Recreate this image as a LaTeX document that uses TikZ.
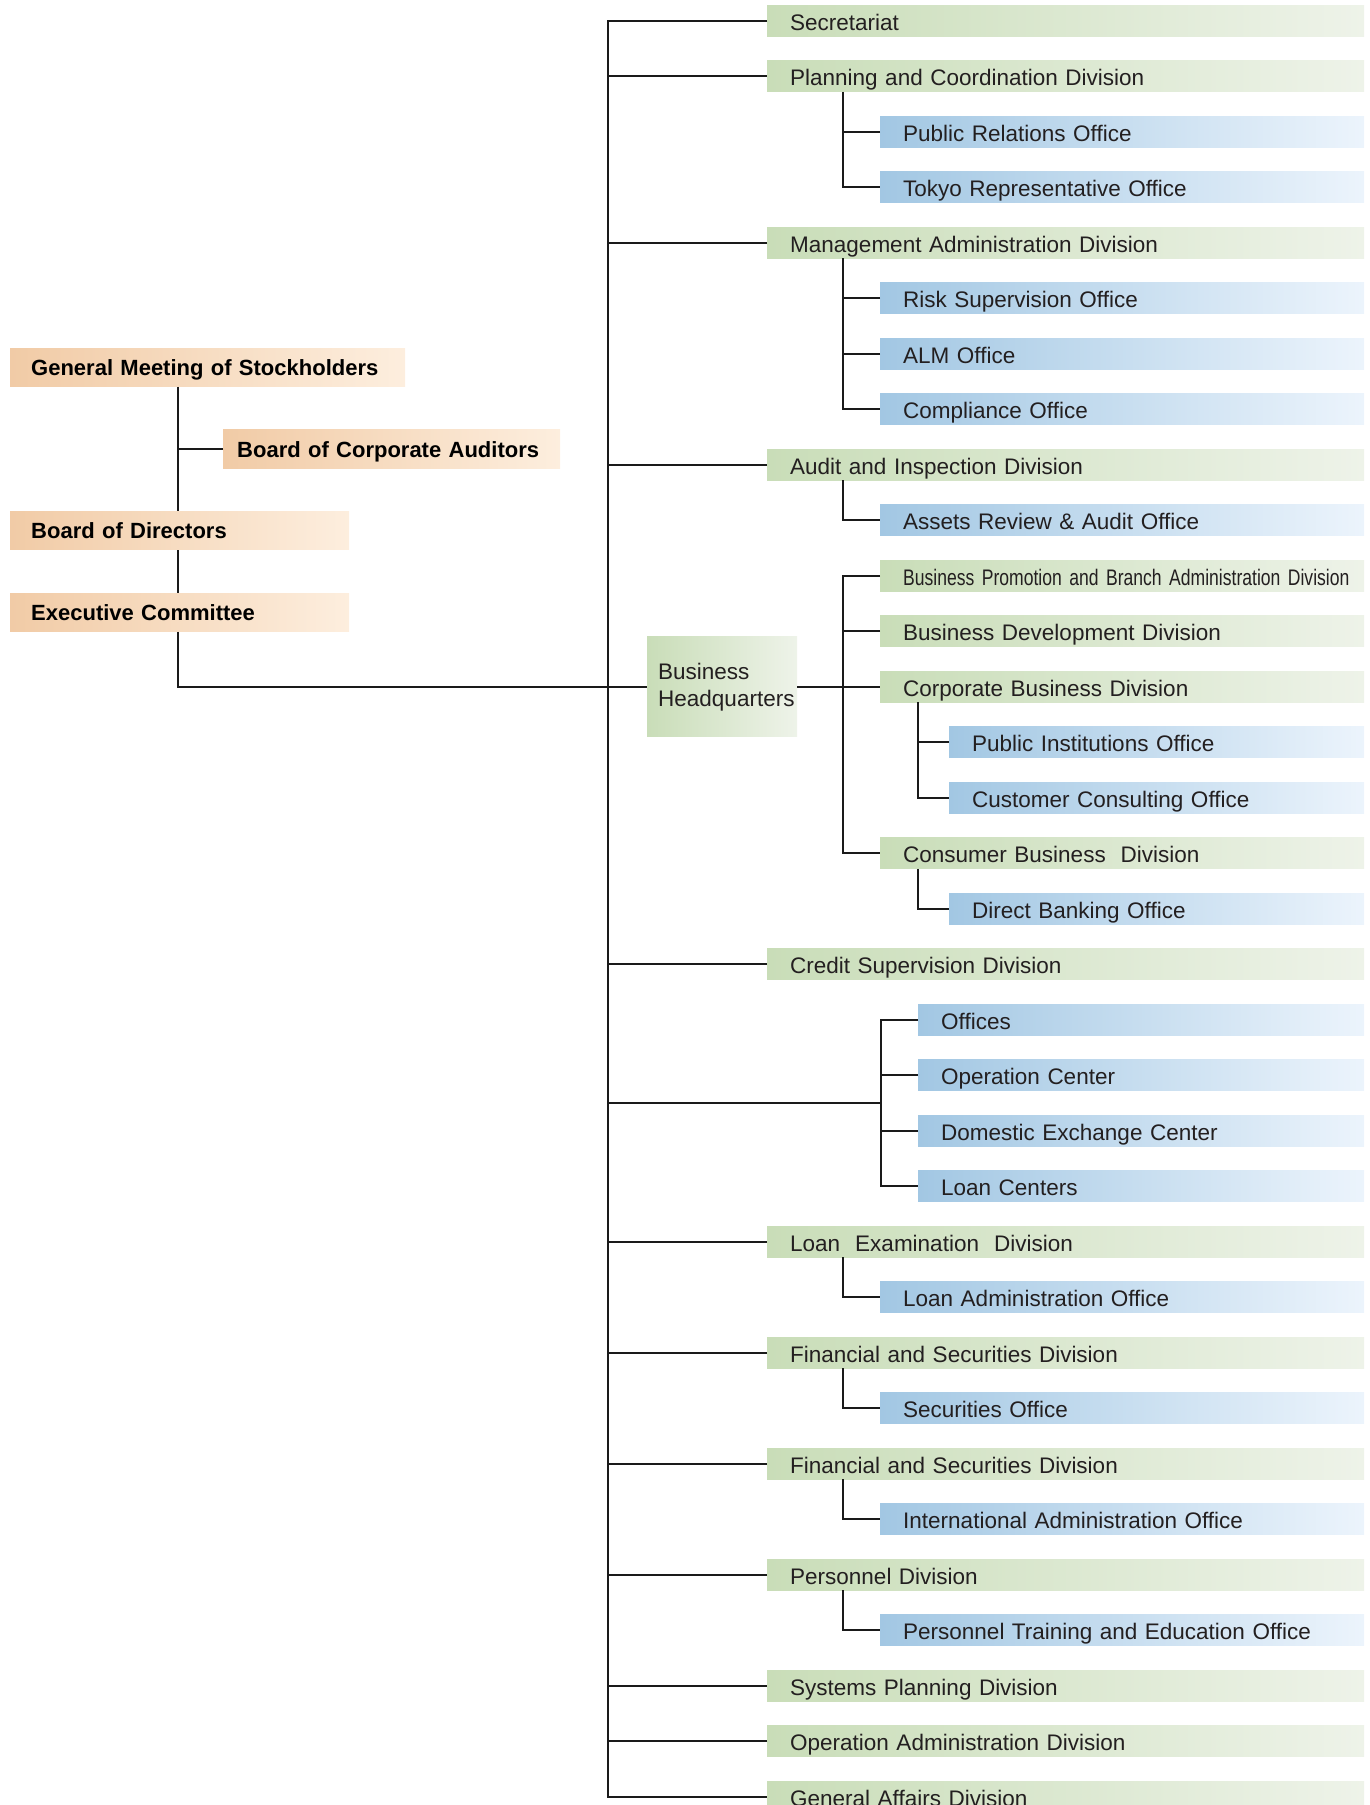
\documentclass[tikz,border=0pt]{standalone}
\usepackage{fontspec}
\setmainfont{Liberation Sans}
\newfontfamily\narrowfont[FakeStretch=0.78]{Liberation Sans}

\definecolor{dvL}{RGB}{201,221,184}
\definecolor{dvR}{RGB}{238,243,233}
\definecolor{ofL}{RGB}{162,199,227}
\definecolor{ofR}{RGB}{236,244,252}
\definecolor{gvL}{RGB}{241,203,166}
\definecolor{gvR}{RGB}{253,238,222}
\definecolor{txt}{RGB}{35,31,32}
\definecolor{lnc}{RGB}{26,26,26}

\tikzset{
  bx/.style={anchor=west, text=txt, inner xsep=23pt, inner ysep=6pt, text height=19pt, text depth=0pt, align=left},
  dv/.style={bx, left color=dvL, right color=dvR, text width=#1},
  dv/.default=551pt,
  ofc/.style={bx, left color=ofL, right color=ofR, text width=#1},
  ofc/.default=438pt,
  gv/.style={anchor=west, text=black, font=\fontsize{22pt}{27pt}\selectfont\bfseries, inner xsep=21pt, inner ysep=11pt, text height=16.5pt, text depth=0pt, align=left, left color=gvL, right color=gvR, text width=#1},
  hq/.style={anchor=west, text=txt, left color=dvL, right color=dvR, text width=128pt, inner xsep=11pt, inner ysep=0pt, minimum height=100pt, align=left},
  ln/.style={draw=lnc, line width=2pt}
}

\begin{document}
\begin{tikzpicture}[x=1pt, y=-1pt, font=\fontsize{22.5pt}{27pt}\selectfont]
	\useasboundingbox (0,0) rectangle (1369,1805);
	\clip (0,0) rectangle (1369,1805);

	% governance
	\node[gv=353pt] (gm) at (10,367.5) {\mbox{General Meeting of Stockholders}};
	\node[gv=309pt, inner xsep=14pt] (bca) at (223,449) {\mbox{Board of Corporate Auditors}};
	\node[gv=297pt] (bod) at (10,530.7) {Board of Directors};
	\node[gv=297pt] (ec) at (10,612.5) {Executive Committee};
	\node[hq] (bhq) at (647,686.7) {Business\\Headquarters};

	\coordinate (spine) at (178,0);
	\coordinate (trunk) at (608,0);
	\coordinate (sub) at (843,0);
	\coordinate (subsub) at (918,0);
	\coordinate (centres) at (881,1103);

	% divisions and offices
	\node[dv] (sec) at (767,20.7) {Secretariat};
	\node[dv] (plan) at (767,76.2) {Planning and Coordination Division};
	\node[ofc] (pr) at (880,131.7) {Public Relations Office};
	\node[ofc] (tokyo) at (880,187.2) {Tokyo Representative Office};
	\node[dv] (mgmt) at (767,242.7) {Management Administration Division};
	\node[ofc] (risk) at (880,298.2) {Risk Supervision Office};
	\node[ofc] (alm) at (880,353.7) {ALM Office};
	\node[ofc] (comp) at (880,409.2) {Compliance Office};
	\node[dv] (audit) at (767,464.7) {Audit and Inspection Division};
	\node[ofc] (assets) at (880,520.2) {Assets Review \& Audit Office};
	\node[dv=438pt] (bpba) at (880,575.7) {\narrowfont\mbox{Business Promotion and Branch Administration Division}};
	\node[dv=438pt] (busdev) at (880,631.2) {Business Development Division};
	\node[dv=438pt] (corp) at (880,686.7) {Corporate Business Division};
	\node[ofc=369pt] (pubinst) at (949,742.2) {Public Institutions Office};
	\node[ofc=369pt] (custcons) at (949,797.7) {Customer Consulting Office};
	\node[dv=438pt] (consumer) at (880,853.2) {Consumer Business\ \ Division};
	\node[ofc=369pt] (direct) at (949,908.7) {Direct Banking Office};
	\node[dv] (credit) at (767,964.2) {Credit Supervision Division};
	\node[ofc=400pt] (offices) at (918,1019.7) {Offices};
	\node[ofc=400pt] (opctr) at (918,1075.2) {Operation Center};
	\node[ofc=400pt] (domex) at (918,1130.7) {Domestic Exchange Center};
	\node[ofc=400pt] (loanctr) at (918,1186.2) {Loan Centers};
	\node[dv] (loanexam) at (767,1241.7) {Loan\ \ Examination\ \ Division};
	\node[ofc] (loanadm) at (880,1297.2) {Loan Administration Office};
	\node[dv] (finsec) at (767,1352.7) {Financial and Securities Division};
	\node[ofc] (secoff) at (880,1408.2) {Securities Office};
	\node[dv] (finsecb) at (767,1463.7) {Financial and Securities Division};
	\node[ofc] (intl) at (880,1519.2) {International Administration Office};
	\node[dv] (pers) at (767,1574.7) {Personnel Division};
	\node[ofc] (perstr) at (880,1630.2) {Personnel Training and Education Office};
	\node[dv] (sys) at (767,1685.7) {Systems Planning Division};
	\node[dv] (opadm) at (767,1741.2) {Operation Administration Division};
	\node[dv] (ga) at (767,1796.7) {General Affairs Division};

	% left side
	\draw[ln] (gm.south -| spine) -- (bod.north -| spine);
	\draw[ln] (bca.west) -- (bca.west -| spine);
	\draw[ln] (bod.south -| spine) -- (ec.north -| spine);
	\draw[ln] (ec.south -| spine) |- (bhq.west);

	% trunk
	\draw[ln] (sec.west) -| (trunk |- ga.west) -- (ga.west);
	\draw[ln] (plan.west) -- (plan.west -| trunk);
	\draw[ln] (mgmt.west) -- (mgmt.west -| trunk);
	\draw[ln] (audit.west) -- (audit.west -| trunk);
	\draw[ln] (credit.west) -- (credit.west -| trunk);
	\draw[ln] (loanexam.west) -- (loanexam.west -| trunk);
	\draw[ln] (finsec.west) -- (finsec.west -| trunk);
	\draw[ln] (finsecb.west) -- (finsecb.west -| trunk);
	\draw[ln] (pers.west) -- (pers.west -| trunk);
	\draw[ln] (sys.west) -- (sys.west -| trunk);
	\draw[ln] (opadm.west) -- (opadm.west -| trunk);

	% offices under divisions
	\draw[ln] (plan.south -| sub) |- (tokyo.west);
	\draw[ln] (pr.west) -- (pr.west -| sub);
	\draw[ln] (mgmt.south -| sub) |- (comp.west);
	\draw[ln] (risk.west) -- (risk.west -| sub);
	\draw[ln] (alm.west) -- (alm.west -| sub);
	\draw[ln] (audit.south -| sub) |- (assets.west);
	\draw[ln] (loanexam.south -| sub) |- (loanadm.west);
	\draw[ln] (finsec.south -| sub) |- (secoff.west);
	\draw[ln] (finsecb.south -| sub) |- (intl.west);
	\draw[ln] (pers.south -| sub) |- (perstr.west);

	% business headquarters
	\draw[ln] (bhq.east) -- (corp.west);
	\draw[ln] (bpba.west) -| (sub |- consumer.west) -- (consumer.west);
	\draw[ln] (busdev.west) -- (busdev.west -| sub);
	\draw[ln] (corp.south -| subsub) |- (custcons.west);
	\draw[ln] (pubinst.west) -- (pubinst.west -| subsub);
	\draw[ln] (consumer.south -| subsub) |- (direct.west);

	% centres
	\draw[ln] (centres -| trunk) -- (centres);
	\draw[ln] (offices.west) -| (centres) |- (loanctr.west);
	\draw[ln] (opctr.west) -- (opctr.west -| centres);
	\draw[ln] (domex.west) -- (domex.west -| centres);
\end{tikzpicture}
\end{document}
